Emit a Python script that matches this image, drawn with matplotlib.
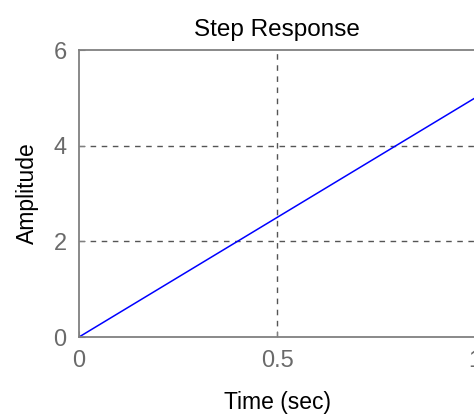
import matplotlib
matplotlib.use("Agg")
import matplotlib.pyplot as plt

# Step response samples of a pure integrator with gain 5
time_sec = [0.0, 0.1, 0.2, 0.3, 0.4, 0.5, 0.6, 0.7, 0.8, 0.9, 1.0]
amplitude = [0.0, 0.5, 1.0, 1.5, 2.0, 2.5, 3.0, 3.5, 4.0, 4.5, 5.0]

x_ticks = [0, 0.5, 1]
x_tick_labels = ["0", "0.5", "1"]
y_ticks = [0, 2, 4, 6]
y_tick_labels = ["0", "2", "4", "6"]

plt.rcParams["font.family"] = ["Liberation Sans", "DejaVu Sans"]

fig = plt.figure(figsize=(4.74, 4.17), dpi=100)
ax = fig.add_axes([0.1667, 0.1918, 0.8355, 0.688])
ax.set_axisbelow(True)

ax.plot(time_sec, amplitude, color="#0000ff", linewidth=1.1, zorder=3)

ax.set_xlim(0, 1)
ax.set_ylim(0, 6)
ax.set_xticks(x_ticks)
ax.set_xticklabels(x_tick_labels)
ax.set_yticks(y_ticks)
ax.set_yticklabels(y_tick_labels)

ax.grid(True, color="#555555", linestyle=(0, (4, 4)), linewidth=1.0)
# grid lines lying on the box edges are covered by the frame
for axis, lo, hi in ((ax.xaxis, 0, 1), (ax.yaxis, 0, 6)):
    for tick, loc in zip(axis.get_major_ticks(), axis.get_majorticklocs()):
        if loc in (lo, hi):
            tick.gridline.set_visible(False)

ax.tick_params(direction="in", length=4, color="#808080",
               labelcolor="#6a6a6a", labelsize=17)
ax.tick_params(axis="x", pad=9)
ax.tick_params(axis="y", pad=9)
for side in ax.spines.values():
    side.set_color("#808080")
    side.set_linewidth(1.3)
    side.set_zorder(4)

ax.set_title("Step Response", fontsize=17.5, pad=10)
ax.set_xlabel("Time (sec)", fontsize=16.5, labelpad=14)
ax.set_ylabel("Amplitude", fontsize=16.5, labelpad=10)

fig.savefig("out.png", dpi=100, facecolor="white")
